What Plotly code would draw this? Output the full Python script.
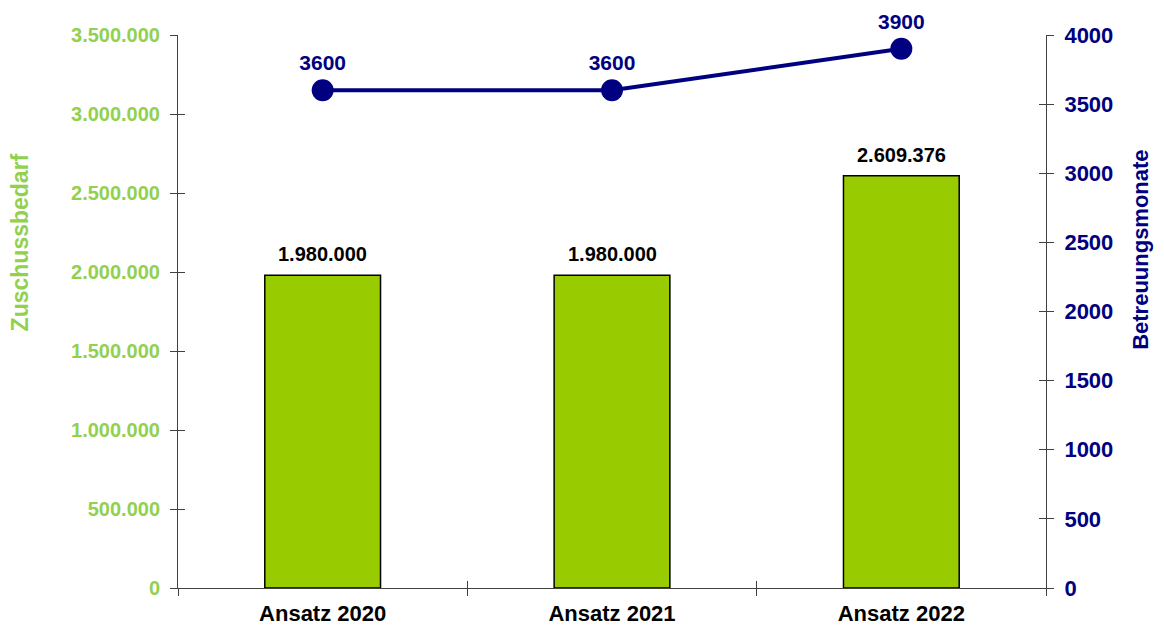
import plotly.graph_objects as go

categories = ["Ansatz 2020", "Ansatz 2021", "Ansatz 2022"]
zuschuss = [1980000, 1980000, 2609376]
betreuungsmonate = [3600, 3600, 3900]
left_ticks = [0, 500000, 1000000, 1500000, 2000000, 2500000, 3000000, 3500000]
right_ticks = [0, 500, 1000, 1500, 2000, 2500, 3000, 3500, 4000]

FONT = "Liberation Sans, Arial, sans-serif"
GREEN_TXT = "#92D050"
NAVY = "#000080"
AX = "#404040"

fig = go.Figure()
fig.add_trace(go.Bar(
    x=categories, y=zuschuss, name="Zuschussbedarf",
    marker=dict(color="#99CC00", line=dict(color="#000000", width=1.5)),
    width=0.4,
    yaxis="y",
))
fig.add_trace(go.Scatter(
    x=categories, y=betreuungsmonate, name="Betreuungsmonate",
    mode="lines+markers+text",
    line=dict(color=NAVY, width=4),
    marker=dict(color=NAVY, size=22),
    texttemplate="%{y:d}", textposition="top center", cliponaxis=False,
    textfont=dict(family=FONT, size=21, color=NAVY, weight="bold"),
    yaxis="y2",
))
# invisible helpers so the tick marks cross the axis lines
fig.add_trace(go.Scatter(x=[None], y=[None], xaxis="x2", yaxis="y3", showlegend=False, hoverinfo="skip"))
fig.add_trace(go.Scatter(x=[None], y=[None], xaxis="x2", yaxis="y4", showlegend=False, hoverinfo="skip"))

annotations = []
for cat, val in zip(categories, zuschuss):
    annotations.append(dict(
        x=cat, y=val, xref="x", yref="y", yanchor="bottom", yshift=8,
        text=f"{val:,}".replace(",", "."), showarrow=False,
        font=dict(family=FONT, size=20, color="#000000", weight="bold"),
    ))
annotations.append(dict(
    x=-0.182, y=0.625, xref="paper", yref="paper", xanchor="center", yanchor="middle",
    text="Zuschussbedarf", textangle=-90, showarrow=False,
    font=dict(family=FONT, size=23, color=GREEN_TXT, weight="bold"),
))
annotations.append(dict(
    x=1.108, y=0.611, xref="paper", yref="paper", xanchor="center", yanchor="middle",
    text="Betreuungsmonate", textangle=-90, showarrow=False,
    font=dict(family=FONT, size=22, color=NAVY, weight="bold"),
))

fig.update_layout(
    width=1164, height=630,
    margin=dict(l=170, r=126, t=27, b=48),
    paper_bgcolor="white", plot_bgcolor="white",
    separators=",.",
    showlegend=False,
    font=dict(family=FONT),
    annotations=annotations,
    xaxis=dict(
        showline=True, linecolor=AX, linewidth=1,
        ticks="outside", tickson="boundaries", ticklen=7, tickcolor=AX,
        ticklabelstandoff=6,
        tickfont=dict(family=FONT, size=22, color="#000000", weight="bold"),
        showgrid=False,
    ),
    xaxis2=dict(
        overlaying="x", anchor="y", range=[-0.5, 2.5], tickvals=[0.5, 1.5],
        ticks="inside", ticklen=7, tickcolor=AX, showticklabels=False,
        showline=False, showgrid=False, zeroline=False,
    ),
    yaxis=dict(
        range=[0, 3500000], tickvals=left_ticks,
        tickformat=",d",
        showline=True, linecolor=AX, linewidth=1,
        ticks="outside", ticklen=7, tickcolor=AX,
        ticklabelstandoff=6,
        tickfont=dict(family=FONT, size=20, color=GREEN_TXT, weight="bold"),
        showgrid=False, zeroline=False,
    ),
    yaxis2=dict(
        range=[0, 4000], tickvals=right_ticks,
        tickformat="d",
        overlaying="y", side="right",
        showline=True, linecolor=AX, linewidth=1,
        ticks="outside", ticklen=7, tickcolor=AX,
        ticklabelstandoff=6,
        tickfont=dict(family=FONT, size=22, color=NAVY, weight="bold"),
        showgrid=False, zeroline=False,
    ),
    yaxis3=dict(
        overlaying="y", side="left", range=[0, 3500000], tickvals=left_ticks,
        ticks="inside", ticklen=7, tickcolor=AX, showticklabels=False,
        showline=False, showgrid=False, zeroline=False,
    ),
    yaxis4=dict(
        overlaying="y", side="right", range=[0, 4000], tickvals=right_ticks,
        ticks="inside", ticklen=7, tickcolor=AX, showticklabels=False,
        showline=False, showgrid=False, zeroline=False,
    ),
)

fig.write_html("out.html")
